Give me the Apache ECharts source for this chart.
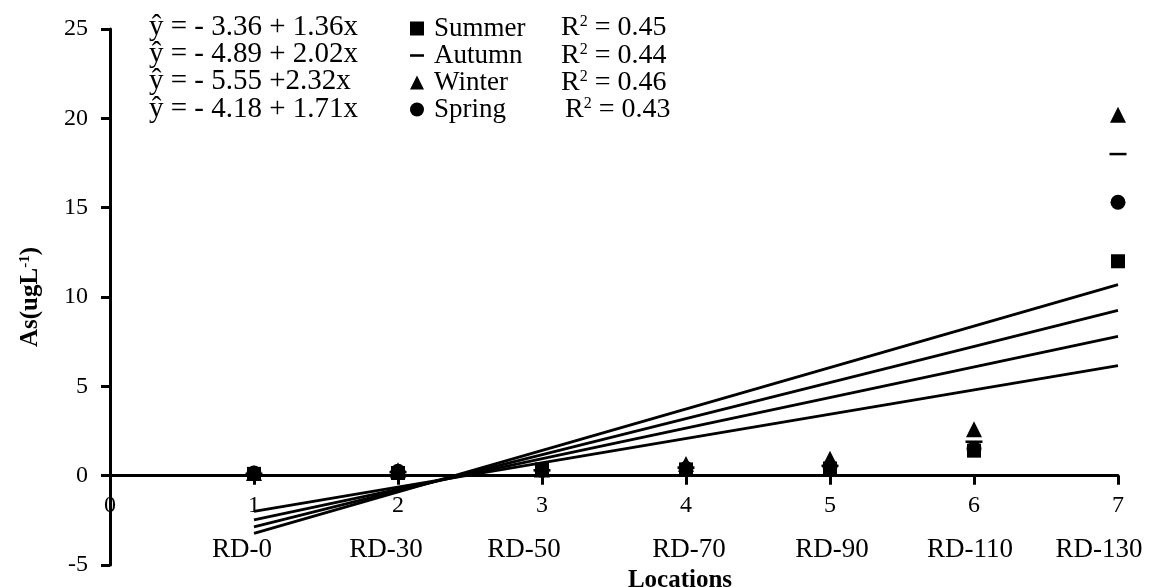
<!DOCTYPE html>
<html><head><meta charset="utf-8">
<script src="https://cdn.jsdelivr.net/npm/echarts@6/dist/echarts.min.js"></script>
<style>html,body{margin:0;padding:0;background:#fff}#c{width:1149px;height:587px}</style>
</head><body><div id="c"></div>
<script>
// ---- data ----
const xValues = [1, 2, 3, 4, 5, 6, 7];
const locationLabels = ['RD-0', 'RD-30', 'RD-50', 'RD-70', 'RD-90', 'RD-110', 'RD-130'];
const seasons = ['Summer', 'Autumn', 'Winter', 'Spring'];
const summer = [0.1, 0.15, 0.35, 0.35, 0.4, 1.4, 12.0];
const autumn = [0.1, 0.2, 0.3, 0.45, 0.55, 1.9, 18.0];
const winter = [0.15, 0.3, 0.35, 0.65, 0.95, 2.6, 20.2];
const spring = [0.15, 0.25, 0.3, 0.4, 0.5, 1.5, 15.3];
const intercepts = [-3.36, -4.89, -5.55, -4.18];
const slopes = [1.36, 2.02, 2.32, 1.71];
const eqLabels = ['ŷ = - 3.36 + 1.36x', 'ŷ = - 4.89 + 2.02x', 'ŷ = - 5.55 +2.32x', 'ŷ = - 4.18 + 1.71x'];
const r2Values = ['0.45', '0.44', '0.46', '0.43'];
const yMin = -5, yMax = 25, yStep = 5;

// ---- styling ----
const FONT = '"Liberation Serif", "Times New Roman", serif';
const BLACK = '#000';
const seasonData = [summer, autumn, winter, spring];
const seasonSymbols = ['rect', 'rect', 'triangle', 'circle'];
const seasonSizes = [14, [17, 2.5], 16, 15];
const legendIcons = ['rect', 'path://M0,0L12,0L12,2.2L0,2.2Z', 'triangle', 'circle'];
const labelShift = [-12, -12, -18, 3, 2, -4, -19]; // horizontal nudge of location names
const rowY0 = 27, rowStep = 27.3;
const G = {left: 110, right: 31, top: 29, bottom: 22};
const plotH = 587 - G.top - G.bottom;
const zeroOffset = -plotH * (0 - yMin) / (yMax - yMin); // lift x axis to y = 0

const chart = echarts.init(document.getElementById('c'), null, {renderer: 'canvas'});

const series = [];
seasons.forEach((s, i) => {
  const x0 = xValues[0], x1 = xValues[xValues.length - 1];
  series.push({
    name: s + ' fit', type: 'line', silent: true, showSymbol: false, symbol: 'none',
    data: [[x0, intercepts[i] + slopes[i] * x0], [x1, intercepts[i] + slopes[i] * x1]],
    lineStyle: {color: BLACK, width: 2.8}, z: 3
  });
});
[3, 2, 1, 0].forEach(i => {
  series.push({
    name: seasons[i], type: 'scatter',
    symbol: seasonSymbols[i], symbolSize: seasonSizes[i],
    data: xValues.map((x, k) => [x, seasonData[i][k]]),
    itemStyle: {color: BLACK, opacity: 1}, z: 4
  });
});

const graphics = [];
eqLabels.forEach((t, i) => {
  const cy = rowY0 + rowStep * i;
  graphics.push({
    type: 'text', x: 149, y: cy,
    style: {text: t, fontFamily: FONT, fontSize: 29, fill: BLACK, verticalAlign: 'middle'}
  });
  graphics.push({
    type: 'text', x: i === 3 ? 565 : 561, y: cy + 1,
    style: {
      text: '{r|R}{s|2}{r| = ' + r2Values[i] + '}', fill: BLACK, verticalAlign: 'middle',
      rich: {
        r: {fontFamily: FONT, fontSize: 28, fill: BLACK, lineHeight: 28},
        s: {fontFamily: FONT, fontSize: 16, fill: BLACK, verticalAlign: 'top', lineHeight: 16}
      }
    }
  });
});

const labelRich = {
  n: {fontFamily: FONT, fontSize: 24, color: BLACK, lineHeight: 30}
};
labelShift.forEach((s, i) => {
  labelRich['r' + i] = {
    fontFamily: FONT, fontSize: 27, color: BLACK, lineHeight: 58,
    padding: s < 0 ? [0, -2 * s, 0, 0] : [0, 0, 0, 2 * s]
  };
});

const option = {
  animation: false,
  backgroundColor: '#fff',
  grid: Object.assign({containLabel: false, outerBoundsMode: 'none'}, G),
  legend: {
    orient: 'vertical', left: 405, top: rowY0 - 17, itemWidth: 14, itemHeight: 14, itemGap: 0,
    selectedMode: false,
    textStyle: {fontFamily: FONT, fontSize: 27, color: BLACK, lineHeight: 27, padding: [0, 0, 0, 5]},
    data: seasons.map((s, i) => ({name: s, icon: legendIcons[i], itemStyle: {color: BLACK}}))
  },
  xAxis: {
    type: 'value', min: 0, max: 7, interval: 1, offset: zeroOffset,
    axisLine: {show: true, onZero: false, lineStyle: {color: BLACK, width: 3}},
    axisTick: {show: true, length: 9, lineStyle: {color: BLACK, width: 3}},
    splitLine: {show: false},
    axisLabel: {
      margin: 15, color: BLACK, fontFamily: FONT,
      formatter: v => v === 0 ? '{n|0}' : '{n|' + v + '}\n{r' + (v - 1) + '|' + locationLabels[v - 1] + '}',
      rich: labelRich
    },
    name: 'Locations', nameLocation: 'middle', nameGap: 88,
    nameTextStyle: {fontFamily: FONT, fontSize: 25, fontWeight: 'bold', color: BLACK, padding: [0, 0, 0, 132]}
  },
  yAxis: {
    type: 'value', min: yMin, max: yMax, interval: yStep,
    axisLine: {show: true, onZero: false, lineStyle: {color: BLACK, width: 3}},
    axisTick: {show: true, length: 9, lineStyle: {color: BLACK, width: 3}},
    splitLine: {show: false},
    axisLabel: {margin: 22, color: BLACK, fontFamily: FONT, fontSize: 24},
    name: '{a|As(ugL}{s|-1}{a|)}', nameLocation: 'middle', nameGap: 66, nameRotate: 90,
    nameTextStyle: {
      rich: {
        a: {fontFamily: FONT, fontSize: 25, fontWeight: 'bold', color: BLACK, lineHeight: 26},
        s: {fontFamily: FONT, fontSize: 15, fontWeight: 'bold', color: BLACK, verticalAlign: 'top', lineHeight: 15}
      }
    }
  },
  graphic: graphics,
  series: series
};
chart.setOption(option);
</script>
</body></html>
